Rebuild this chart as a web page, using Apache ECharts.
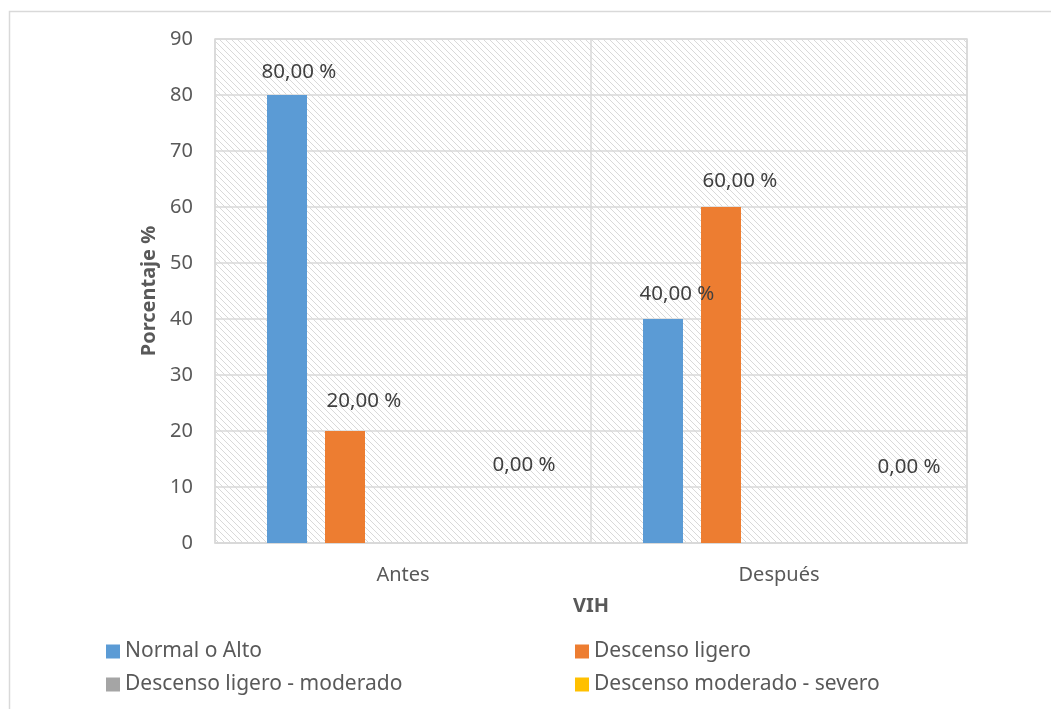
<!DOCTYPE html>
<html>
<head>
<meta charset="utf-8">
<script src="https://cdn.jsdelivr.net/npm/echarts@6/dist/echarts.min.js"></script>
<style>
  html, body { margin: 0; padding: 0; background: #ffffff; }
  #chart { width: 1051px; height: 709px; }
</style>
</head>
<body>
<div id="chart"></div>
<script>
// Categories and series values (percent)
const categories = ['Antes', 'Después'];
const seriesNames = ['Normal o Alto', 'Descenso ligero', 'Descenso ligero - moderado', 'Descenso moderado - severo'];
const normalAlto = [80, 40];
const descensoLigero = [20, 60];
const descensoLigeroModerado = [0, 0];
const descensoModeradoSevero = [0, 0];
const yTicks = { min: 0, max: 90, interval: 10 };

const colors = ['#5b9bd5', '#ed7d31', '#a5a5a5', '#ffc000'];
const FONT = '"Segoe UI", "Noto Sans", "Open Sans", sans-serif';

// Hand-placed data label nudges [dx, dy] per series per category
const labelNudge = [
  [[12, -7], [14, -9]],
  [[19, -14], [19, -10]],
  [null, null],
  [[63, -62], [72, -60]]
];

function fmt(v) { return v.toFixed(2).replace('.', ',') + ' %'; }

// Diagonal hatch fill for the plotting area
function hatch() {
  const c = document.createElement('canvas');
  c.width = 6; c.height = 6;
  const g = c.getContext('2d');
  g.fillStyle = '#ffffff';
  g.fillRect(0, 0, 6, 6);
  g.strokeStyle = '#d9d9d9';
  g.lineWidth = 1;
  g.beginPath();
  g.moveTo(-1, -1); g.lineTo(7, 7);
  g.moveTo(-4, 2); g.lineTo(4, 10);
  g.moveTo(2, -4); g.lineTo(10, 4);
  g.stroke();
  return { image: c, repeat: 'repeat' };
}

function buildSeries(name, values, idx) {
  return {
    name: name,
    type: 'bar',
    barWidth: 40,
    barGap: '45%',
    itemStyle: { color: colors[idx] },
    data: values.map((v, i) => {
      const nudge = labelNudge[idx][i];
      return {
        value: v,
        label: nudge ? {
          show: true, position: 'top', distance: 5, offset: nudge,
          formatter: p => fmt(p.value),
          color: '#404040', fontSize: 20.5, fontFamily: FONT
        } : { show: false }
      };
    })
  };
}

const series = [
  buildSeries(seriesNames[0], normalAlto, 0),
  buildSeries(seriesNames[1], descensoLigero, 1),
  buildSeries(seriesNames[2], descensoLigeroModerado, 2),
  buildSeries(seriesNames[3], descensoModeradoSevero, 3),
  // empty slot that keeps the bar group spacing
  { name: '', type: 'bar', barWidth: 40, barGap: '45%', silent: true,
    itemStyle: { color: 'rgba(0,0,0,0)' }, data: [0, 0] }
];

const legendCommon = {
  orient: 'vertical', icon: 'rect', itemWidth: 14, itemHeight: 14,
  itemGap: 12, selectedMode: false,
  textStyle: { color: '#595959', fontSize: 21, fontFamily: FONT }
};

const chart = echarts.init(document.getElementById('chart'), null, { renderer: 'canvas' });
chart.setOption({
  backgroundColor: '#ffffff',
  animation: false,
  graphic: [{
    type: 'rect', left: 7, top: 9, silent: true,
    shape: { x: 0, y: 0, width: 1080, height: 740 },
    style: { fill: 'none', stroke: '#d9d9d9', lineWidth: 1.5 }
  }],
  grid: {
    left: 215, right: 84, top: 39, bottom: 166,
    show: true, backgroundColor: hatch(), borderColor: '#d9d9d9', borderWidth: 1.5
  },
  legend: [
    Object.assign({ left: 101, top: 636, data: [seriesNames[0], seriesNames[2]] }, legendCommon),
    Object.assign({ left: 570, top: 636, data: [seriesNames[1], seriesNames[3]] }, legendCommon)
  ],
  xAxis: {
    type: 'category',
    data: categories,
    name: 'VIH',
    nameLocation: 'middle',
    nameGap: 53,
    nameTextStyle: { color: '#595959', fontSize: 20, fontWeight: 'bold', fontFamily: FONT },
    axisLine: { lineStyle: { color: '#d9d9d9', width: 1.5 } },
    axisTick: { show: false },
    axisLabel: { color: '#595959', fontSize: 20, margin: 22, fontFamily: FONT },
    splitLine: { show: true, lineStyle: { color: '#d9d9d9', width: 1.5 } }
  },
  yAxis: {
    type: 'value',
    min: yTicks.min, max: yTicks.max, interval: yTicks.interval,
    name: 'Porcentaje %',
    nameLocation: 'middle',
    nameGap: 56,
    nameRotate: 90,
    nameTextStyle: { color: '#595959', fontSize: 20, fontWeight: 'bold', fontFamily: FONT },
    axisLine: { show: false },
    axisTick: { show: false },
    axisLabel: { color: '#595959', fontSize: 20, margin: 22, fontFamily: FONT },
    splitLine: { lineStyle: { color: '#d9d9d9', width: 1.5 } }
  },
  series: series
});
</script>
</body>
</html>
